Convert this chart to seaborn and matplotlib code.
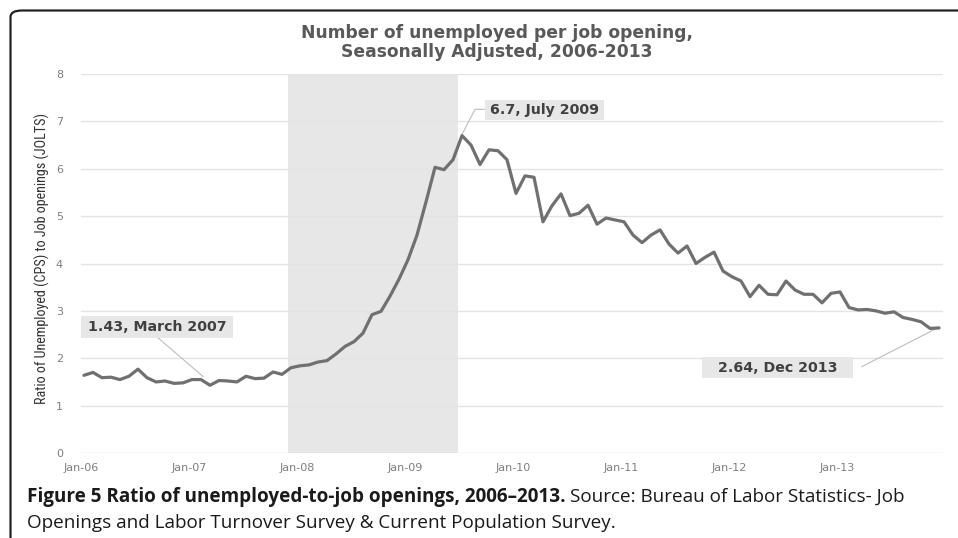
import numpy as np
import pandas as pd
import matplotlib
matplotlib.use("Agg")
import matplotlib.pyplot as plt
import seaborn as sns
from matplotlib.patches import FancyBboxPatch, Rectangle
from matplotlib import font_manager as fm

# ---------------- data ----------------
tick_labels = ["Jan-06", "Jan-07", "Jan-08", "Jan-09", "Jan-10", "Jan-11", "Jan-12", "Jan-13"]
ratio = [
    1.64, 1.70, 1.59, 1.60, 1.55, 1.62, 1.77, 1.59, 1.50, 1.52, 1.47, 1.48,   # 2006
    1.55, 1.55, 1.43, 1.53, 1.52, 1.50, 1.62, 1.57, 1.58, 1.71, 1.66, 1.80,   # 2007
    1.84, 1.86, 1.92, 1.95, 2.09, 2.25, 2.35, 2.53, 2.92, 2.99, 3.31, 3.67,   # 2008
    4.08, 4.60, 5.30, 6.03, 5.98, 6.19, 6.70, 6.50, 6.09, 6.40, 6.38, 6.19,   # 2009
    5.48, 5.85, 5.82, 4.88, 5.22, 5.47, 5.01, 5.06, 5.23, 4.83, 4.96, 4.92,   # 2010
    4.88, 4.60, 4.44, 4.60, 4.71, 4.41, 4.22, 4.37, 4.00, 4.13, 4.24, 3.84,   # 2011
    3.72, 3.63, 3.30, 3.54, 3.35, 3.34, 3.63, 3.44, 3.35, 3.35, 3.17, 3.37,   # 2012
    3.40, 3.07, 3.02, 3.03, 3.00, 2.95, 2.98, 2.86, 2.82, 2.77, 2.63, 2.64,   # 2013
]
months = list(range(len(ratio)))
recession_start = 22.63   # Dec 2007 (month index)
recession_end = 41.59     # Jun 2009
ann_labels = ["1.43, March 2007", "6.7, July 2009", "2.64, Dec 2013"]

df = pd.DataFrame({"month": months, "ratio": ratio})

# ---------------- figure ----------------
W, H = 958, 538
fig = plt.figure(figsize=(W / 100, H / 100), dpi=100)
sns.set_style("white")
plt.rcParams["font.family"] = ["DejaVu Sans"]

def fx(px):
    return px / W

def fy(py):
    return 1 - py / H

def fit(txt, target_px, horizontal=True):
    fig.canvas.draw()
    bb = txt.get_window_extent()
    cur = bb.width if horizontal else bb.height
    txt.set_fontsize(txt.get_fontsize() * target_px / cur)

ax = fig.add_axes([fx(81), fy(453), (943 - 81) / W, (453 - 74) / H])
ax.set_xlim(-0.33, 95.44)
ax.set_ylim(0, 8)

ax.axvspan(recession_start, recession_end, color="#e7e7e7", lw=0, zorder=0)
for v in range(1, 9):
    ax.axhline(v, color="#e3e3e3", lw=1, zorder=0.5)
ax.axhline(0, color="#d9d9d9", lw=1, zorder=0.6)

sns.lineplot(data=df, x="month", y="ratio", ax=ax, color="#707070", lw=2.3, zorder=3)

for s in ax.spines.values():
    s.set_visible(False)
ax.set_xlabel("")
ax.set_ylabel("")
ax.set_xticks([12 * k - 0.33 for k in range(len(tick_labels))])
ax.set_xticklabels(tick_labels)
ax.set_yticks(range(0, 9))
ax.tick_params(axis="x", direction="in", length=3, color="#d9d9d9", pad=7,
               labelsize=8, labelcolor="#7f7f7f")
ax.tick_params(axis="y", length=0, pad=13, labelsize=8, labelcolor="#7f7f7f")

# ---------------- annotations ----------------
def px2d(px, py):
    return (px - 84) / 9.0, (453 - py) / 47.375

box_specs = [  # (left, top, right, bottom) in px, leader points in px
    ((81, 316, 233, 337.5), [(156.7, 336.7), (203.3, 376.7)]),
    ((485, 100, 603.5, 119.5), [(485, 109.3), (475, 109.3), (460.7, 137)]),
    ((701.7, 356.7, 853.3, 378.3), [(861.7, 366.7), (936.7, 328.3)]),
]
for label, (bx, leader) in zip(ann_labels, box_specs):
    l, t, r, b = bx
    x0, y0 = px2d(l, b)
    x1, y1 = px2d(r, t)
    ax.add_patch(Rectangle((x0, y0), x1 - x0, y1 - y0, fc="#e7e7e7", ec="none",
                           zorder=4, clip_on=False))
    ax.text((x0 + x1) / 2, (y0 + y1) / 2, label, ha="center", va="center",
            fontsize=10.2, fontweight="bold", color="#404040", zorder=5)
    pts = [px2d(*p) for p in leader]
    ax.plot([p[0] for p in pts], [p[1] for p in pts], color="#bdbdbd", lw=0.8,
            zorder=2.5, clip_on=False)

# ---------------- texts ----------------
tt1 = fig.text(fx(497), fy(33), "Number of unemployed per job opening,", ha="center",
               va="center", fontsize=12, fontweight="bold", color="#595959")
fit(tt1, 390)
fig.text(fx(497), fy(51.7), "Seasonally Adjusted, 2006-2013", ha="center",
         va="center", fontsize=tt1.get_fontsize(), fontweight="bold", color="#595959")

# y label: condensed face if available
names = {f.name for f in fm.fontManager.ttflist}
ylab_family = ["DejaVu Sans"]
ylab_stretch = "normal"
for cand in ["Liberation Sans Narrow", "DejaVu Sans Condensed", "Roboto Condensed",
             "Open Sans Condensed"]:
    if cand in names:
        ylab_family = [cand, "DejaVu Sans"]
        break
else:
    path = fm.findfont(fm.FontProperties(family="DejaVu Sans", stretch="condensed"))
    if "Condensed" in path:
        ylab_stretch = "condensed"
yl = fig.text(fx(42), fy(259), "Ratio of Unemployed (CPS) to Job openings (JOLTS)",
              rotation=90, ha="center", va="center", fontsize=10.5,
              family=ylab_family, stretch=ylab_stretch, color="#333333")
fit(yl, 292, horizontal=False)

cap_font = ["Open Sans", "DejaVu Sans"]
t1 = fig.text(fx(27), fy(501.7), "Figure 5 Ratio of unemployed-to-job openings, 2006\u20132013.",
              ha="left", va="baseline", fontsize=12.6, fontweight="bold",
              family=cap_font, color="#1a1a1a")
t2 = fig.text(0, fy(501.7), "Source: Bureau of Labor Statistics- Job",
              ha="left", va="baseline", fontsize=12.6, family=cap_font, color="#1a1a1a")
fig.canvas.draw()
w1 = t1.get_window_extent().width
w2 = t2.get_window_extent().width
total = w1 + 4 + w2
scale = 881 / total
cap_size = 12.6 * scale
t1.set_fontsize(cap_size)
t2.set_fontsize(cap_size)
fig.canvas.draw()
bb = t1.get_window_extent()
t2.set_x(bb.x1 / W + 4 * scale / W)
fig.text(fx(27), fy(528.3),
         "Openings and Labor Turnover Survey & Current Population Survey.",
         ha="left", va="baseline", fontsize=cap_size, family=cap_font, color="#1a1a1a")

# frame
frame = FancyBboxPatch((fx(10.5), fy(600)), fx(1100), fy(10.5) - fy(600),
                       boxstyle="round,pad=0,rounding_size=0.012",
                       transform=fig.transFigure, fc="none", ec="#222222",
                       lw=1.6, clip_on=False)
fig.patches.append(frame)

fig.savefig("out.png", dpi=100)
